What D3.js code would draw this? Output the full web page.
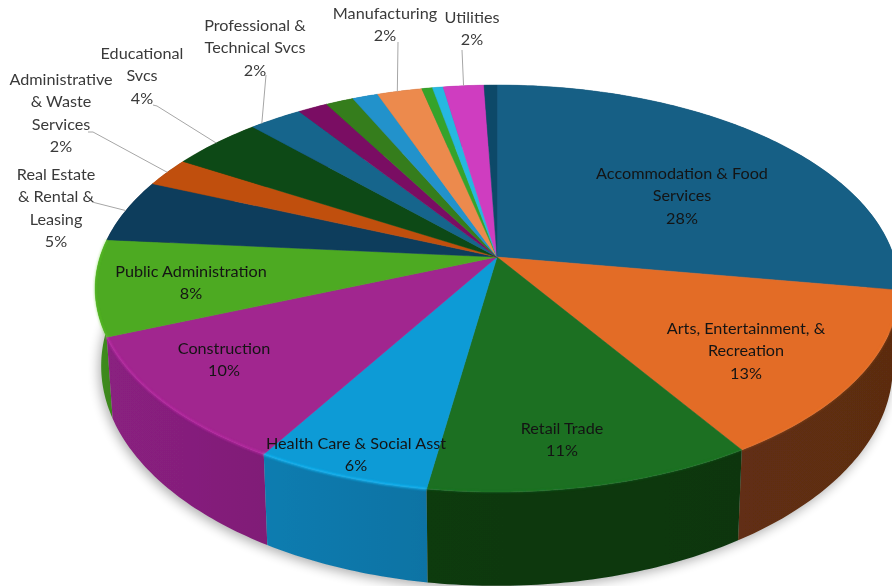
<!DOCTYPE html>
<html>
<head>
<meta charset="utf-8">
<script src="https://cdn.jsdelivr.net/npm/d3@7"></script>
<style>
    html, body { margin: 0; padding: 0; background: #fff; }
    svg { display: block; }
    text { font-family: Lato, "Liberation Sans", sans-serif; font-size: 16.2px; }
</style>
</head>
<body>
<svg id="pie3d" width="892" height="586"></svg>
<script>
// slice shares, clockwise from 12 o'clock
const sectors = ['Accommodation & Food Services', 'Arts, Entertainment, & Recreation', 'Retail Trade',
    'Health Care & Social Asst', 'Construction', 'Public Administration', 'Real Estate & Rental & Leasing',
    'Administrative & Waste Services', 'Educational Svcs', 'Professional & Technical Svcs',
    'Other 1', 'Other 2', 'Other 3', 'Manufacturing', 'Other 4', 'Other 5', 'Utilities', 'Other 6'];
const shares = [27.6, 13.4, 11.4, 6.1, 10.3, 7.6, 5.0, 2.3, 4.3, 2.5, 1.4, 1.3, 1.2, 2.1, 0.5, 0.5, 1.9, 0.6];
const topColors = ['#175f85', '#e36c28', '#1d6f24', '#119bd6', '#a1258f', '#4eaa22', '#0f3c5c', '#c0500f', '#0f4a14',
    '#14658c', '#7a1063', '#347d1c', '#2192cb', '#ec8a4e', '#36a32c', '#25b8e0', '#cf3cc0', '#0f4a68'];
const wallColors = ['#0f4560', '#622f12', '#0b3a10', '#0f7cb0', '#8a2080', '#3f8f20', '#0a2a40', '#803508', '#0a320e',
    '#0d4560', '#520b42', '#235412', '#166288', '#9e5c34', '#246d1e', '#197b96', '#8a2880', '#0a3246'];

const labelLines = [
    ['Accommodation & Food', 'Services', '28%'],
    ['Arts, Entertainment, &', 'Recreation', '13%'],
    ['Retail Trade', '11%'],
    ['Health Care & Social Asst', '6%'],
    ['Construction', '10%'],
    ['Public Administration', '8%'],
    ['Real Estate', '& Rental &', 'Leasing', '5%'],
    ['Administrative', '& Waste', 'Services', '2%'],
    ['Educational', 'Svcs', '4%'],
    ['Professional &', 'Technical Svcs', '2%'],
    null, null, null,
    ['Manufacturing', '2%'],
    null, null,
    ['Utilities', '2%'],
    null
];
// label anchors: centre x, centre y of first line
const labelPos = [[682, 173], [746, 328], [562, 428], [356, 443], [224, 348], [191, 271], [56, 174], [61, 79],
    [142, 53], [255, 25], null, null, null, [385, 13], null, null, [472, 17], null];
const leaders = [
    { i: 6, pts: [[92, 202]], t: 0.5 },
    { i: 7, pts: [[88, 132], [93, 132]], t: 0.5 },
    { i: 8, pts: [[153, 105], [157, 106]], t: 0.5 },
    { i: 9, pts: [[266, 75]], t: 0.2 },
    { i: 13, pts: [[398, 42]], t: 0.45 },
    { i: 16, pts: [[462, 50]], t: 0.5 }
];

const cx = 497, cy = 257;
const R = 397, S = 198.6, persp = 0.155;

// perspective view of the disc, top face
function topPoint(a) {
    const u = Math.sin(a), v = Math.cos(a), w = 1 + persp * v;
    return [cx + R * u / w, cy - S * v / w];
}
// same angle on the lower edge of the wall
function bottomPoint(a) {
    const p = topPoint(a);
    return [cx + 0.985 * (p[0] - cx), cy + 75 + 1.08 * (p[1] - cy)];
}
function arcAngles(a0, a1) {
    const n = Math.max(2, Math.ceil((a1 - a0) / 0.015));
    return d3.range(n + 1).map(i => a0 + (a1 - a0) * i / n);
}

const svg = d3.select('#pie3d');
const line = d3.line();
const defs = svg.append('defs');

defs.append('filter').attr('id', 'shadow').attr('x', '-10%').attr('y', '-10%').attr('width', '120%').attr('height', '120%')
    .append('feGaussianBlur').attr('stdDeviation', 6);
defs.append('filter').attr('id', 'soft').attr('x', '-5%').attr('y', '-5%').attr('width', '110%').attr('height', '110%')
    .append('feGaussianBlur').attr('stdDeviation', 0.6);
defs.append('filter').attr('id', 'rimBlur').attr('x', '-5%').attr('y', '-5%').attr('width', '110%').attr('height', '110%')
    .append('feGaussianBlur').attr('stdDeviation', 1);

const arcs = d3.pie().sort(null).value(d => d)(shares);

arcs.forEach((d, i) => {
    const g = defs.append('linearGradient').attr('id', 'wall' + i);
    g.append('stop').attr('offset', '0%').attr('stop-color', wallColors[i]);
    g.append('stop').attr('offset', '100%').attr('stop-color', d3.color(wallColors[i]).darker(0.2));
});

// soft shadow round the lower edge
svg.append('path')
    .attr('d', line(arcAngles(0, 2 * Math.PI).map(bottomPoint)) + 'Z')
    .attr('transform', 'translate(-2,3)')
    .attr('fill', '#000')
    .attr('opacity', 0.32)
    .attr('filter', 'url(#shadow)');

const pie = svg.append('g').attr('filter', 'url(#soft)');

// walls first, back to front so the front ones are on top
const wallOrder = d3.range(arcs.length).sort((a, b) =>
    topPoint((arcs[a].startAngle + arcs[a].endAngle) / 2)[1] - topPoint((arcs[b].startAngle + arcs[b].endAngle) / 2)[1]);

pie.append('g')
    .selectAll('path')
    .data(wallOrder)
    .enter().append('path')
    .attr('d', i => {
        const as = arcAngles(arcs[i].startAngle, arcs[i].endAngle);
        return line(as.map(topPoint).concat(as.slice().reverse().map(bottomPoint))) + 'Z';
    })
    .attr('fill', i => 'url(#wall' + i + ')');

pie.append('g')
    .selectAll('path')
    .data(arcs)
    .enter().append('path')
    .attr('d', d => line([[cx, cy]].concat(arcAngles(d.startAngle, d.endAngle).map(topPoint))) + 'Z')
    .attr('fill', (d, i) => topColors[i])
    .attr('stroke', (d, i) => topColors[i])
    .attr('stroke-width', 0.5);

// light bevel along the front of the rim
svg.append('g')
    .attr('filter', 'url(#rimBlur)')
    .selectAll('path')
    .data(arcs.filter((d, i) => i >= 1 && i <= 5))
    .enter().append('path')
    .attr('d', d => line(arcAngles(d.startAngle, d.endAngle).map(topPoint)))
    .attr('fill', 'none')
    .attr('stroke', (d, i) => d3.color(topColors[i + 1]).brighter(0.6))
    .attr('stroke-width', 2)
    .attr('opacity', (d, i) => [0.2, 0.25, 0.8, 0.7, 0.4][i]);

// leader lines
svg.append('g')
    .selectAll('path')
    .data(leaders)
    .enter().append('path')
    .attr('d', l => {
        const d = arcs[l.i];
        return line(l.pts.concat([topPoint(d.startAngle + (d.endAngle - d.startAngle) * l.t)]));
    })
    .attr('fill', 'none')
    .attr('stroke', '#a6a6a6')
    .attr('stroke-width', 1);

// labels
const lineStep = 22.3;
const labels = svg.append('g')
    .selectAll('text')
    .data(arcs.map((d, i) => i).filter(i => labelLines[i]))
    .enter().append('text')
    .attr('text-anchor', 'middle')
    .attr('fill', i => i <= 5 ? '#141414' : '#3a3a3a');

labels.selectAll('tspan')
    .data(i => labelLines[i].map((t, k) => ({ t: t, k: k, i: i })))
    .enter().append('tspan')
    .attr('x', d => labelPos[d.i][0])
    .attr('y', d => labelPos[d.i][1] + d.k * lineStep + 6)
    .text(d => d.t);
</script>
</body>
</html>
